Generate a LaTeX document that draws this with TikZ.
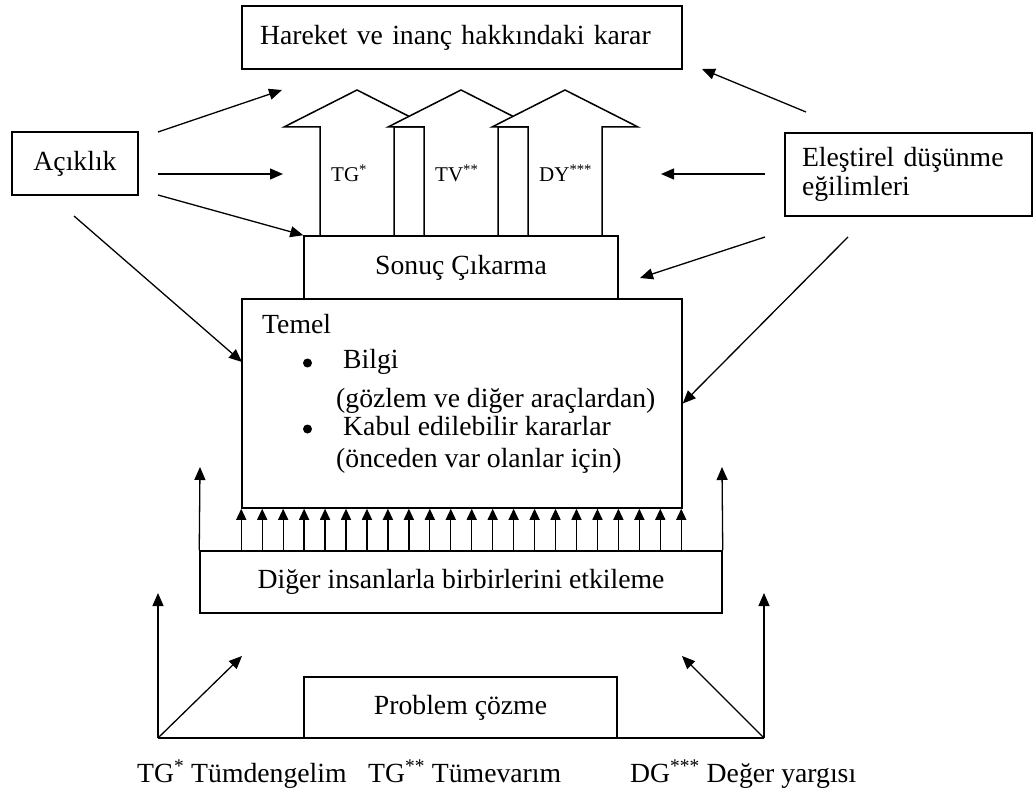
\documentclass[tikz,border=0pt]{standalone}
\usepackage{fontspec}
\setmainfont{Liberation Serif}
\usetikzlibrary{arrows.meta}

\begin{document}
\begin{tikzpicture}[x=1pt,y=-1pt,
  box/.style={draw,line width=1.5pt,inner sep=0pt,font=\fontsize{27.7}{29}\selectfont},
  txt/.style={inner sep=0pt,anchor=base west,font=\fontsize{27.7}{33}\selectfont},
  lbl/.style={inner sep=0pt,anchor=base west,font=\fontsize{21}{24}\selectfont},
  dot/.style={circle,fill,inner sep=0pt,minimum size=9pt},
  arr/.style={-{Triangle[length=13pt,width=11pt]},line width=1.3pt},
  tick/.style={-{Triangle[length=11pt,width=10pt]},line width=1.3pt},
  blk/.style={draw,fill=white,line width=1.5pt}
]
\useasboundingbox (0,0) rectangle (1033,794);

% top and side boxes
\node[box,minimum width=440pt,minimum height=63pt,text width=404pt,inner xsep=18pt,align=left] (karar) at (462,37.5) {Hareket ve inanç hakkındaki karar};
\node[box,minimum width=126pt,minimum height=63pt] (acik) at (75,163.5) {Açıklık};
\node[box,minimum width=247pt,minimum height=83pt,text width=213pt,inner xsep=17pt,align=left] (elest) at (908.5,174.5) {Eleştirel düşünme\\eğilimleri};

% the three block arrows
\foreach \t/\name/\lab in {357/tg/TG\textsuperscript{*},461/tv/TV\textsuperscript{**},565/dy/DY\textsuperscript{***}} {
  \draw[blk] (\t,90) -- (\t+73,127) -- (\t+37,127) -- (\t+37,236) -- (\t-37,236) -- (\t-37,127) -- (\t-73,127) -- cycle;
  \node[lbl] (\name) at (\t-26,182) {\lab};
}

\node[box,fill=white,minimum width=314pt,minimum height=63pt] (sonuc) at (461,267.5) {Sonuç Çıkarma};
\node[box,minimum width=440pt,minimum height=209pt] (temel) at (462,403.5) {};
\node[txt] (temel-t) at (262,333) {Temel};
\node[dot] (dot1) at (307.5,363) {};
\node[txt] (bilgi) at (343,368) {Bilgi};
\node[txt] (bilgi-n) at (336,407) {(gözlem ve diğer araçlardan)};
\node[dot] (dot2) at (307.5,429) {};
\node[txt] (kabul) at (343,435) {Kabul edilebilir kararlar};
\node[txt] (kabul-n) at (336,467) {(önceden var olanlar için)};

\node[box,minimum width=522pt,minimum height=62pt] (diger) at (461,582) {Diğer insanlarla birbirlerini etkileme};
\node[box,minimum width=313pt,minimum height=61pt] (probl) at (460.5,707.5) {Problem çözme};

% free ends
\coordinate (a1) at (158,132); \coordinate (k1) at (282,90);
\coordinate (a2) at (158,174); \coordinate (h1) at (283,174);
\coordinate (a3) at (158,195);
\coordinate (a4) at (74,216);  \coordinate (t1) at (242,362);
\coordinate (e1) at (806,112); \coordinate (k2) at (702,69);
\coordinate (e2) at (765,174); \coordinate (h2) at (661,174);
\coordinate (e3) at (765,237); \coordinate (s2) at (640,278);
\coordinate (e4) at (848,237);
\coordinate (dl) at (200,467); \coordinate (dr) at (722,467);
\coordinate (bl) at (158,738); \coordinate (br) at (764,738);
\coordinate (bl2) at (158,593); \coordinate (br2) at (764,593);
\coordinate (bd) at (242,656); \coordinate (bd2) at (682,656);

\draw[arr] (a1) -- (k1);
\draw[arr] (a2) -- (h1);
\draw[arr] (a3) -- (sonuc.north west);
\draw[arr] (a4) -- (t1);
\draw[arr] (e1) -- (k2);
\draw[arr] (e2) -- (h2);
\draw[arr] (e3) -- (s2);
\draw[arr] (e4) -- (temel.east);

% row of small arrows
\foreach \i in {0,...,21} {
  \path (temel.south west) ++(\i*20.952,0) coordinate (top\i);
  \draw[tick] (top\i |- diger.north) -- (top\i);
}
\draw[arr] (diger.north west) -- (dl);
\draw[arr] (diger.north east) -- (dr);

% bottom
\draw[line width=1.3pt] (bl) -- (br);
\draw[arr] (bl) -- (bl2);
\draw[arr] (br) -- (br2);
\draw[arr] (bl) -- (bd);
\draw[arr] (br) -- (bd2);

\node[txt] (lab1) at (137,782) {TG\textsuperscript{*} Tümdengelim};
\node[txt] (lab2) at (368,782) {TG\textsuperscript{**} Tümevarım};
\node[txt] (lab3) at (630,782) {DG\textsuperscript{***} Değer yargısı};
\end{tikzpicture}
\end{document}
